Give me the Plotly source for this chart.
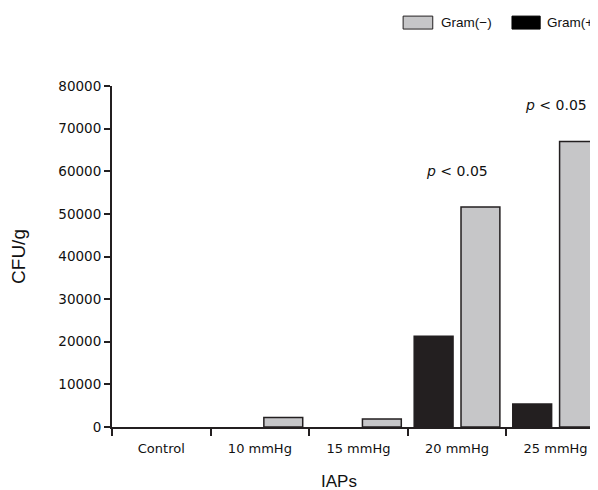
import plotly.graph_objects as go

categories = ["Control", "10 mmHg", "15 mmHg", "20 mmHg", "25 mmHg"]
gram_pos = [0, 0, 0, 21300, 5400]
gram_neg = [0, 2200, 1900, 51600, 67000]
sig_categories = ["20 mmHg", "25 mmHg"]
sig_y = [60000, 75500]
sig_text = ["<i>p</i> &lt; 0.05", "<i>p</i> &lt; 0.05"]
y_ticks = [0, 10000, 20000, 30000, 40000, 50000, 60000, 70000, 80000]

DARK = "#231f20"
GREY = "#c6c6c8"
FONT = "Liberation Sans, Arial, sans-serif"
TICKFONT = "DejaVu Sans, sans-serif"


def outline(vals):
    return [0 if v == 0 else 1.5 for v in vals]


fig = go.Figure()
fig.add_trace(go.Bar(x=categories, y=gram_pos, name="Gram(+)",
                     marker=dict(color=DARK, line=dict(color=DARK, width=outline(gram_pos)))))
fig.add_trace(go.Bar(x=categories, y=gram_neg, name="Gram(−)",
                     marker=dict(color=GREY, line=dict(color=DARK, width=outline(gram_neg)))))

for c, y, t in zip(sig_categories, sig_y, sig_text):
    fig.add_annotation(x=c, y=y, text=t, showarrow=False,
                       font=dict(size=14, color="#111", family=TICKFONT),
                       xanchor="center", yanchor="middle")

# custom legend (boxes + labels)
fig.add_shape(type="rect", xref="paper", yref="paper", x0=0.599, x1=0.660, y0=1.167, y1=1.205,
              fillcolor=GREY, line=dict(color=DARK, width=1))
fig.add_annotation(xref="paper", yref="paper", x=0.672, y=1.186, text="Gram(−)", showarrow=False,
                   xanchor="left", yanchor="middle", font=dict(size=13.5, color="#111"))
fig.add_shape(type="rect", xref="paper", yref="paper", x0=0.823, x1=0.881, y0=1.167, y1=1.205,
              fillcolor="#000", line=dict(color="#000", width=1))
fig.add_annotation(xref="paper", yref="paper", x=0.890, y=1.186, text="Gram(+)", showarrow=False,
                   xanchor="left", yanchor="middle", font=dict(size=13.5, color="#111"))

# x-axis title
fig.add_annotation(xref="paper", yref="paper", x=0.467, y=-0.161, text="IAPs", showarrow=False,
                   xanchor="center", yanchor="middle", font=dict(size=17, color="#111"))

fig.update_layout(
    width=598, height=490,
    margin=dict(l=104, r=8, t=78, b=71, autoexpand=False),
    paper_bgcolor="white", plot_bgcolor="white",
    barmode="group", bargap=0.05, bargroupgap=0.17,
    showlegend=False,
    font=dict(family=FONT, color="#111", size=13),
)
fig.update_xaxes(
    type="category", range=[-0.5, 4.43], automargin=False,
    showline=True, linecolor=DARK, linewidth=2,
    ticks="outside", tickson="boundaries", ticklen=7, tickwidth=1.5, tickcolor=DARK,
    tickfont=dict(size=13, family=TICKFONT), ticklabelstandoff=8,
    showgrid=False, zeroline=False,
)
fig.update_yaxes(
    range=[0, 80000], tickvals=y_ticks, tickformat="d", automargin=False,
    showline=True, linecolor=DARK, linewidth=2,
    ticks="outside", ticklen=6, tickwidth=1.5, tickcolor=DARK,
    tickfont=dict(size=13.5, family=TICKFONT),
    title=dict(text="CFU/g", font=dict(size=19), standoff=28),
    showgrid=False, zeroline=False,
)

fig.write_html("out.html")
